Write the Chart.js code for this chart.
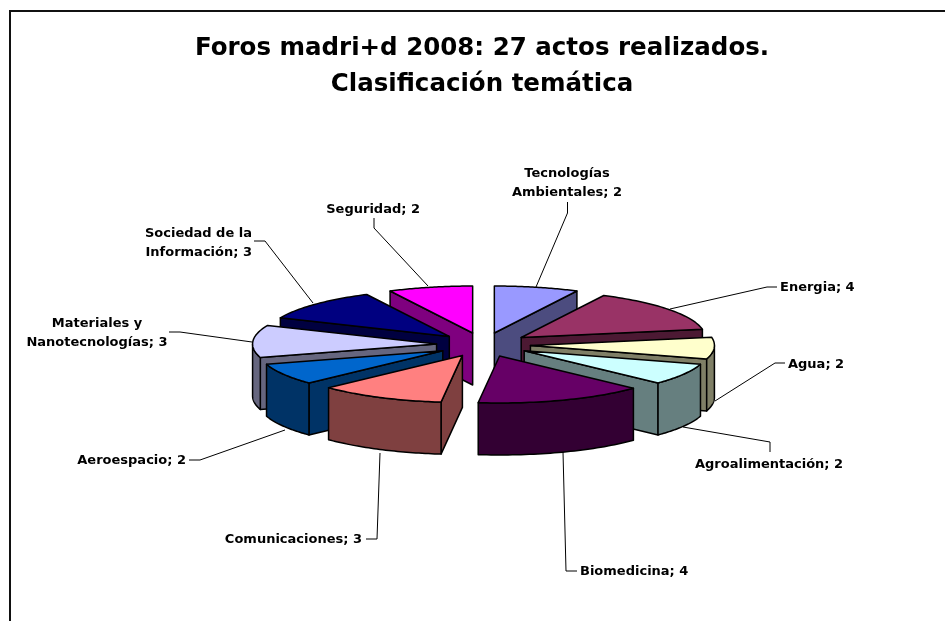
<!DOCTYPE html>
<html><head><meta charset="utf-8">
<style>html,body{margin:0;padding:0;background:#fff}#w{position:relative;width:945px;height:621px;overflow:hidden}
#f{position:absolute;left:9px;top:10px;width:950px;height:700px;box-sizing:border-box;border:2px solid #111}</style>
<script src="https://cdn.jsdelivr.net/npm/chart.js@4"></script></head>
<body><div id="w"><div id="f"></div><canvas id="c" width="945" height="621" style="position:absolute;left:0;top:0"></canvas></div>
<script>
const categories = ["Tecnologías Ambientales","Energia","Agua","Agroalimentación","Biomedicina","Comunicaciones","Aeroespacio","Materiales y Nanotecnologías","Sociedad de la Información","Seguridad"];
const values = [2,4,2,2,4,3,2,3,3,2];
const colors = ["#9999FF","#993366","#FFFFCC","#CCFFFF","#660066","#FF8080","#0066CC","#CCCCFF","#000080","#FF00FF"];
const titleLines = ["Foros madri+d 2008: 27 actos realizados.","Clasificación temática"];

// page layout of the tilted pie
const CX=483.5, CY=344.7, RY=47, DEPTH=52, EXPLODE=47, RADIUS=184;
const LABEL_FONT='bold 13px "DejaVu Sans"';
// wrapped first-line break, text anchor x, centre y of first line, align, leader polyline
const labelLayout=[
 {brk:"Tecnologías",x:567,y:174,a:"center",lead:[[567.5,202],[567.5,213],[536,287]]},
 {x:780,y:288,a:"left",lead:[[777,287],[767,287],[670,309]]},
 {x:788,y:365,a:"left",lead:[[785,363],[775,363],[715,401]]},
 {x:695,y:465,a:"left",lead:[[770,452],[770,442],[683,427]]},
 {x:580,y:572,a:"left",lead:[[577,571],[566,571],[563,452]]},
 {x:362,y:540,a:"right",lead:[[366,539],[377,539],[380,453]]},
 {x:186,y:461,a:"right",lead:[[189,460],[200,460],[285,430]]},
 {brk:"Materiales y",x:97,y:324,a:"center",lead:[[169,332],[180,332],[252,342]]},
 {brk:"Sociedad de la",x:252,y:234,a:"right",lead:[[254,241],[265,241],[313,303]]},
 {x:420,y:210,a:"right",lead:[[374,218],[374,228],[428,286]]}
];
function half(hex){const n=parseInt(hex.slice(1),16);return `rgb(${(n>>16&255)>>1},${(n>>8&255)>>1},${(n&255)>>1})`;}

const pie3d={id:"pie3d",
 beforeDatasetsDraw(chart){
  const ctx=chart.ctx, arcs=chart.getDatasetMeta(0).data;
  // leaders and labels
  ctx.save();ctx.strokeStyle="#000";ctx.lineWidth=1;ctx.fillStyle="#000";ctx.font=LABEL_FONT;ctx.textBaseline="middle";
  labelLayout.forEach((l,i)=>{
   ctx.beginPath();l.lead.forEach((p,j)=>j?ctx.lineTo(p[0],p[1]):ctx.moveTo(p[0],p[1]));ctx.stroke();
   const full=categories[i]+"; "+values[i];
   const lines=l.brk?[l.brk,full.slice(l.brk.length+1)]:[full];
   ctx.textAlign=l.a;lines.forEach((t,k)=>ctx.fillText(t,l.x,l.y+k*19));
  });
  ctx.restore();
  // slices, back to front
  const m=a=>(a.startAngle+a.endAngle)/2;
  const order=arcs.map((a,i)=>i).sort((p,q)=>Math.sin(m(arcs[p]))-Math.sin(m(arcs[q])));
  order.forEach(i=>{
   const a=arcs[i], s=a.startAngle, e=a.endAngle, mid=m(a), R=a.outerRadius, k=RY/R;
   const ox=CX+Math.cos(mid)*EXPLODE, oy=CY+Math.sin(mid)*EXPLODE*k;
   const P=t=>[ox+R*Math.cos(t),oy+RY*Math.sin(t)];
   const wall=half(colors[i]);
   ctx.save();ctx.strokeStyle="#000";ctx.lineWidth=1.5;ctx.lineJoin="round";
   const face=(pts)=>{ctx.beginPath();pts.forEach((p,j)=>j?ctx.lineTo(p[0],p[1]):ctx.moveTo(p[0],p[1]));ctx.closePath();ctx.fillStyle=wall;ctx.fill();ctx.stroke();};
   const radial=t=>{const p=P(t);face([[ox,oy],p,[p[0],p[1]+DEPTH],[ox,oy+DEPTH]]);};
   if(Math.cos(s)<0) radial(s);   // start-edge cut faces the viewer
   if(Math.cos(e)>0) radial(e);   // end-edge cut faces the viewer
   // outer wall: part of the rim on the viewer's side
   const t0=Math.max(s,0), t1=Math.min(e,Math.PI);
   if(t1>t0){const pts=[];const n=40;
    for(let j=0;j<=n;j++)pts.push(P(t0+(t1-t0)*j/n));
    for(let j=n;j>=0;j--){const p=P(t0+(t1-t0)*j/n);pts.push([p[0],p[1]+DEPTH]);}
    face(pts);}
   // top face: the library's own arc under the tilt transform
   ctx.save();ctx.translate(ox,oy);ctx.scale(1,k);ctx.translate(-a.x,-a.y);a.draw(ctx);ctx.restore();
   ctx.beginPath();ctx.moveTo(ox,oy);
   for(let j=0;j<=40;j++){const p=P(s+(e-s)*j/40);ctx.lineTo(p[0],p[1]);}
   ctx.closePath();ctx.stroke();
   ctx.restore();
  });
  return false;
 }
};
new Chart(document.getElementById("c"),{
 type:"pie",
 data:{labels:categories,datasets:[{data:values,backgroundColor:colors,borderWidth:0}]},
 options:{responsive:false,animation:false,events:[],radius:RADIUS,
  layout:{padding:{left:19}},
  plugins:{legend:{display:false},tooltip:{enabled:false},
   title:{display:true,text:titleLines,color:"#000",font:{family:'"DejaVu Sans"',size:24.5,weight:"bold",lineHeight:1.47},padding:{top:31,bottom:8}}}},
 plugins:[pie3d]
});
</script></body></html>
